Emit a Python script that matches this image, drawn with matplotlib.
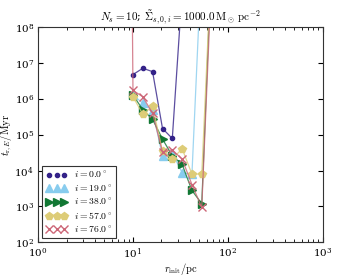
import numpy as np
import matplotlib
matplotlib.use("Agg")
import matplotlib.pyplot as plt

plt.rcParams['mathtext.fontset'] = 'cm'
plt.rcParams['font.family'] = 'DejaVu Serif'
plt.rcParams['font.size'] = 7.5

# initial radii (pc); first entry only carries the red branch coming down from above
r_init = [7.87, 10.0, 12.7, 16.1, 20.5, 26.0, 33.0, 41.9, 53.2, 67.6]

nan = np.nan
t_i00 = [nan, 4.8e6, 7.2e6, 5.8e6, 1.5e5, 7.9e4, 1e9, nan, nan, nan]
t_i19 = [nan, 1.3e6, 7.6e5, 4.8e5, 2.5e4, 3.1e4, 8.8e3, 8.0e3, 1e10, nan]
t_i38 = [nan, 1.3e6, 5.0e5, 2.7e5, 7.6e4, 2.6e4, 1.5e4, 2.8e3, 1.2e3, 1e10]
t_i57 = [nan, 1.15e6, 3.8e5, 6.2e5, 3.5e4, 2.1e4, 4.1e4, 8.0e3, 8.0e3, 1e10]
t_i76 = [1e40, 1.75e6, 1.15e6, 4.0e5, 3.3e4, 3.8e4, 2.1e4, 4.1e3, 9.4e2, 3e9]

series = [
    (t_i00, '#332288', 'o', 3.0, r'$i = 0.0^\circ$'),
    (t_i19, '#88CCEE', '^', 6.0, r'$i = 19.0^\circ$'),
    (t_i38, '#117733', '>', 6.0, r'$i = 38.0^\circ$'),
    (t_i57, '#DDCC77', 'p', 6.0, r'$i = 57.0^\circ$'),
    (t_i76, '#CC6677', 'x', 6.0, r'$i = 76.0^\circ$'),
]

fig = plt.figure(figsize=(3.6, 2.76), dpi=100)
ax = fig.add_axes([0.106, 0.122, 0.79, 0.779])

x = np.array(r_init)
for vals, col, mk, ms, lab in series:
    y = np.array(vals)
    good = ~np.isnan(y)
    ax.plot(x[good], y[good], '-', color=col, lw=0.9, alpha=0.8)
    ax.plot(x[good], y[good], linestyle='none', marker=mk, color=col,
            ms=ms, mew=1.0, label=lab)

ax.set_xscale('log')
ax.set_yscale('log')
ax.set_xlim(1, 1e3)
ax.set_ylim(1e2, 1e8)
ax.yaxis.set_minor_locator(matplotlib.ticker.NullLocator())
ax.tick_params(which='both', direction='in', top=True, right=True,
               labelsize=7.5)
ax.tick_params(axis='x', pad=3)
ax.tick_params(axis='y', pad=3)
ax.tick_params(which='major', length=3.5)
ax.tick_params(which='minor', length=2)
for s in ax.spines.values():
    s.set_color('#333333')

ax.set_xlabel(r'$r_\mathrm{init}/\mathrm{pc}$', fontsize=7.5, labelpad=0)
ax.set_ylabel(r'$t_{\mathrm{r},E}/\mathrm{Myr}$', fontsize=7.5, labelpad=0)
ax.set_title(r'$N_s = 10$; $\tilde{\Sigma}_{s,0,i} = 1000.0\,\mathrm{M_\odot\,pc^{-2}}$',
             fontsize=8, pad=3)

leg = ax.legend(loc='lower left', numpoints=3, fontsize=7, fancybox=False,
                framealpha=1, edgecolor='#333333', handlelength=2.2,
                borderaxespad=0.4, labelspacing=0.3, handletextpad=0.7,
                borderpad=0.4)
leg.get_frame().set_linewidth(0.8)

fig.savefig('out.png', dpi=100)
